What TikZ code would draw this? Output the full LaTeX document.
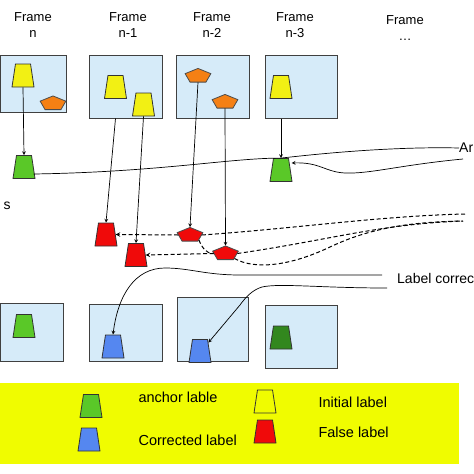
\documentclass[tikz,border=0pt]{standalone}
\usepackage{fontspec}
\setmainfont{Liberation Sans}
\usepackage{tikz}
\usetikzlibrary{calc,positioning,arrows,shapes}
\definecolor{boxblue}{RGB}{214,235,249}
\definecolor{legyellow}{RGB}{240,252,0}
\definecolor{lblyellow}{RGB}{242,240,20}
\definecolor{lblorange}{RGB}{245,128,20}
\definecolor{lblgreen}{RGB}{90,200,40}
\definecolor{lbldkgreen}{RGB}{50,135,30}
\definecolor{lblblue}{RGB}{85,135,240}
\definecolor{lblred}{RGB}{240,10,10}
\tikzstyle{frm}   = [draw=black!75, fill=boxblue, line width=1pt, inner sep=0pt]
\tikzstyle{trap}  = [trapezium, trapezium left angle=77, trapezium right angle=77, trapezium stretches=true, minimum width=22pt, minimum height=23pt, inner sep=1pt, draw=black!80, line width=0.8pt]
\tikzstyle{pent}  = [regular polygon, regular polygon sides=5, minimum size=27pt, inner sep=1pt, yscale=0.56, transform shape, draw=black!70, line width=0.8pt]
\tikzstyle{arrow} = [line width=0.7pt,->,>=stealth]
\tikzstyle{dline} = [line width=1pt, dash pattern=on 4pt off 2.5pt]
\tikzstyle{ttl}   = [font=\fontsize{13}{16}\selectfont, align=center]
\tikzstyle{leg}   = [font=\fontsize{14.5}{17}\selectfont, anchor=west]

\begin{document}
\begin{tikzpicture}[x=1pt,y=-1pt]
        \useasboundingbox (0,0) rectangle (474,474);
        \clip (0,0) rectangle (474,474);

        \node[ttl] (t0) at (33,25) {Frame\\n};
        \node[ttl] (t1) at (128,25) {Frame\\n-1};
        \node[ttl] (t2) at (212,25) {Frame\\n-2};
        \node[ttl] (t3) at (295,25) {Frame\\n-3};
        \node[ttl] (t4) at (405,28) {Frame\\\dots};

        \node[frm, minimum width=66pt, minimum height=57pt] (f0) at (33,83.5) {};
        \node[frm, minimum width=73pt, minimum height=63pt] (f1) at (125.5,86.5) {};
        \node[frm, minimum width=73pt, minimum height=63pt] (f2) at (212.5,86.5) {};
        \node[frm, minimum width=72pt, minimum height=63pt] (f3) at (301,86.5) {};

        \node[frm, minimum width=63pt, minimum height=58pt] (b0) at (31.5,332) {};
        \node[frm, minimum width=73pt, minimum height=57pt] (b1) at (125.5,332.5) {};
        \node[frm, minimum width=71pt, minimum height=64pt] (b2) at (212.5,329) {};
        \node[frm, minimum width=72pt, minimum height=63pt] (b3) at (301,336.5) {};

        \node[trap, fill=lblyellow] (y0) at (23,75.5) {};
        \node[pent, fill=lblorange] (o0) at (53,103.5) {};
        \node[trap, fill=lblyellow] (y1a) at (115.5,87) {};
        \node[trap, fill=lblyellow] (y1b) at (143.5,104.5) {};
        \node[pent, fill=lblorange] (o2a) at (198,76) {};
        \node[pent, fill=lblorange] (o2b) at (225,102) {};
        \node[trap, fill=lblyellow] (y3) at (281,87) {};

        \node[trap, fill=lblgreen] (g0) at (24,167) {};
        \node[trap, fill=lblgreen] (g3) at (281,170) {};

        \node[trap, fill=lblred] (r1) at (106,234.5) {};
        \node[trap, fill=lblred] (r2) at (136,255) {};
        \node[pent, fill=lblred] (p1) at (190,235) {};
        \node[pent, fill=lblred] (p2) at (225.5,253.5) {};

        \node[trap, fill=lblgreen] (bg0) at (24,326) {};
        \node[trap, fill=lblblue] (bl1) at (113,346.5) {};
        \node[trap, fill=lblblue] (bl2) at (200,351) {};
        \node[trap, fill=lbldkgreen] (dg3) at (281,337.5) {};

        \node[font=\fontsize{14}{16}\selectfont] (sfx) at (7,206) {s};
        \node[font=\fontsize{14}{16}\selectfont, anchor=west, inner sep=0pt] (anc) at (459,148) {Ar};
        \node[font=\fontsize{14}{16}\selectfont, anchor=west, inner sep=0pt] (corr) at (397,278) {Label correc};

        \coordinate (c1) at (463,159);
        \coordinate (d1) at (465,214);
        \coordinate (d2) at (463,221);
        \coordinate (lc1) at (382,275);
        \coordinate (lc2) at (387,288);

        \draw[arrow] (y0.south) -- (g0.north);
        \draw[arrow] (f3.south -| y3) -- (g3.north);
        \draw[arrow] (f1.south -| y1a) -- (r1.north);
        \draw[arrow] (y1b.south) -- (r2.north);
        \draw[arrow] (o2a.south) -- (p1.north);
        \draw[arrow] (o2b.south) -- (p2.north);

        \draw[line width=0.7pt] ([yshift=-7pt]g0.east) .. controls (160,172) and (230,158) .. (g3.north) .. controls (360,149) and (420,147) .. (anc.west);
        \draw[arrow] (c1) .. controls (400,165) and (370,174) .. (345,173) .. controls (325,172) and (320,162) .. ([xshift=1pt,yshift=7pt]g3.east);

        \draw[dline,->,>=stealth] (p1.west) -- (r1.east);
        \draw[dline,->,>=stealth] (p2.west) -- (r2.east);
        \draw[dline] (p1.east) .. controls (300,228) and (380,216) .. (d1);
        \draw[dline] (p2.east) .. controls (330,240) and (380,224) .. (d2);
        \draw[dline] (p1.south east) to[out=-70,in=180] (p2.west);
        \draw[dline] (p2.south east) .. controls (255,270) and (290,266) .. (330,247) .. controls (370,228) and (410,222) .. (d2);

        \draw[arrow] (lc1) -- (240,275) .. controls (205,275) and (190,268) .. (165,268) .. controls (135,268) and (118,295) .. (bl1.north);
        \draw[arrow] (lc2) .. controls (320,288) and (280,283) .. (262,287) .. controls (252,290) and (245,298) .. (240,305) -- (bl2.north east);

        \fill[legyellow] (0,383) rectangle (459,464);
        \node[trap, fill=lblgreen] (lg) at (91,406) {};
        \node[trap, fill=lblblue] (lb) at (89,439.5) {};
        \node[trap, fill=legyellow] (li) at (265,401.5) {};
        \node[trap, fill=lblred] (lf) at (265,431.5) {};
        \node[leg] (lgt) at (135,397) {anchor lable};
        \node[leg] (lbt) at (135,440) {Corrected label};
        \node[leg] (lit) at (315,402) {Initial label};
        \node[leg] (lft) at (315,432) {False label};
    \end{tikzpicture}
\end{document}
